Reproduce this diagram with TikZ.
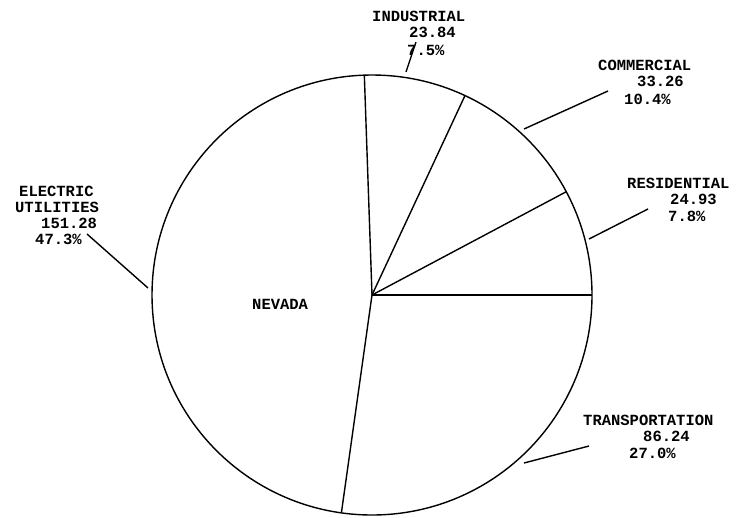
\documentclass[tikz,border=0pt]{standalone}
\usepackage{fontspec}
\setmonofont{Liberation Mono}
\usetikzlibrary{positioning}
\tikzset{
  pie/.style={draw, circle, line width=1.4pt, minimum size=440pt, inner sep=0pt, outer sep=0pt},
  cut/.style={line width=1.4pt},
  leader/.style={line width=1.4pt},
  lbl/.style={anchor=west, inner sep=0pt, font=\ttfamily\bfseries\fontsize{15.5}{18}\selectfont}
}

\begin{document}
\begin{tikzpicture}[x=1pt, y=-1pt]
  \useasboundingbox (0,0) rectangle (743,517);
  % the pie and its slices
  \node[pie] (nv) at (372,295) {};
  \foreach \ang in {0, 28.08, 65.52, 92.52, 262.8}
    \draw[cut] (nv.center) -- (nv.\ang);
  \node[lbl] (state) at (252,304) {NEVADA};

  % labels
  \node[lbl] (ind1) at (372,16) {INDUSTRIAL};
  \node[lbl] (ind2) at (409,32) {23.84};
  \node[lbl] (ind3) at (407,50) {7.5\%};
  \node[lbl] (com1) at (598,65) {COMMERCIAL};
  \node[lbl] (com2) at (637,81) {33.26};
  \node[lbl] (com3) at (624,99) {10.4\%};
  \node[lbl] (res1) at (627,183) {RESIDENTIAL};
  \node[lbl] (res2) at (670,199) {24.93};
  \node[lbl] (res3) at (668,216) {7.8\%};
  \node[lbl] (ele1) at (19,191) {ELECTRIC};
  \node[lbl] (ele2) at (15,207) {UTILITIES};
  \node[lbl] (ele3) at (41,223) {151.28};
  \node[lbl] (ele4) at (35,239) {47.3\%};
  \node[lbl] (tra1) at (583,420) {TRANSPORTATION};
  \node[lbl] (tra2) at (643,436) {86.24};
  \node[lbl] (tra3) at (629,453) {27.0\%};

  % leader lines
  \coordinate (indA) at (406,72);   \coordinate (indB) at (416,42);
  \coordinate (comA) at (524,129);  \coordinate (comB) at (608,91);
  \coordinate (resA) at (589,239);  \coordinate (resB) at (648,209);
  \coordinate (eleA) at (148,288);  \coordinate (eleB) at (87,234);
  \coordinate (traA) at (524,463);  \coordinate (traB) at (589,446);
  \draw[leader] (indA) -- (indB);
  \draw[leader] (comA) -- (comB);
  \draw[leader] (resA) -- (resB);
  \draw[leader] (eleA) -- (eleB);
  \draw[leader] (traA) -- (traB);
\end{tikzpicture}
\end{document}
